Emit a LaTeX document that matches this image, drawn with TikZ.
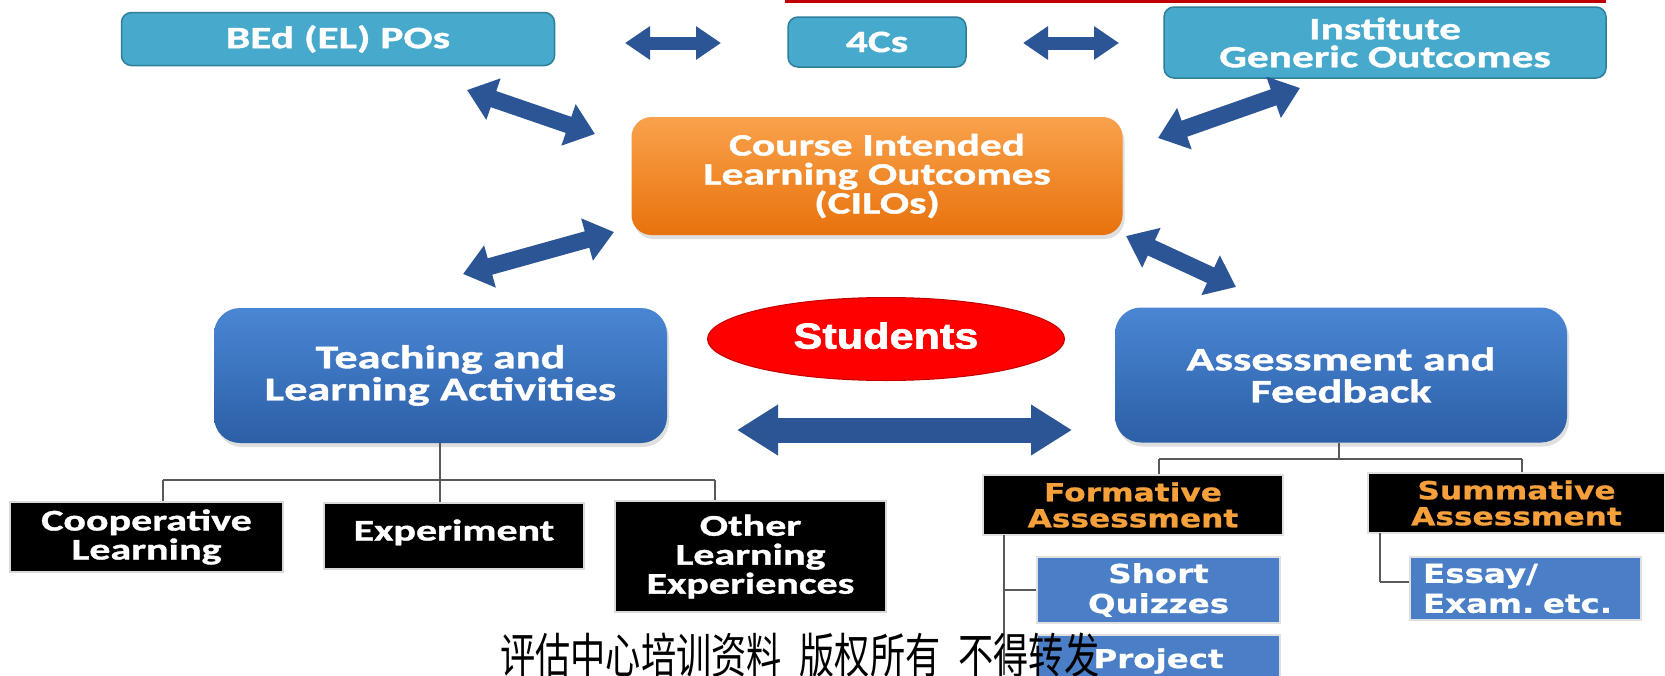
\documentclass[tikz,border=0pt]{standalone}
\usepackage{fontspec}
\setmainfont{Carlito}
\newfontfamily\calb[FakeStretch=1.4, BoldFeatures={FakeBold=1.2}]{Carlito}
\newfontfamily\verdb[FakeStretch=1.25, BoldFeatures={FakeBold=0.8}]{DejaVu Sans}
\newfontfamily\arb[FakeStretch=1.2, BoldFeatures={FakeBold=2}]{Liberation Sans}
\newfontfamily\cjk[FakeStretch=0.88]{Noto Sans CJK SC}
\usetikzlibrary{arrows.meta,shapes.geometric,shadows}
\definecolor{topfill}{HTML}{47A9CB}
\definecolor{topdraw}{HTML}{2E7F9A}
\definecolor{orT}{HTML}{F9A24C}
\definecolor{orB}{HTML}{E8720C}
\definecolor{blT}{HTML}{4A86D4}
\definecolor{blB}{HTML}{2C5FA6}
\definecolor{arrc}{HTML}{2B5594}
\definecolor{subblue}{HTML}{4A7EC6}
\definecolor{goldtxt}{HTML}{F6A03C}
\definecolor{redline}{HTML}{C00000}
\tikzset{
  topbox/.style={rectangle, rounded corners=10pt, fill=topfill, draw=topdraw, line width=1.5pt,
    text=white, font=\calb\bfseries\fontsize{31}{28}\selectfont, align=center, inner sep=0pt},
  cilobox/.style={rectangle, rounded corners=20pt, top color=orT, bottom color=orB, draw=none,
    text=white, font=\calb\bfseries\fontsize{31}{29}\selectfont, align=center, inner sep=0pt,
    drop shadow={opacity=0.25, shadow xshift=2pt, shadow yshift=-4pt}},
  bluebox/.style={rectangle, rounded corners=26pt, top color=blT, bottom color=blB, draw=none,
    text=white, font=\calb\bfseries\fontsize{33}{32}\selectfont, align=center, inner sep=0pt,
    drop shadow={opacity=0.25, shadow xshift=2pt, shadow yshift=-4pt}},
  studell/.style={ellipse, fill=red, draw=redline, line width=1pt, text=white,
    font=\arb\bfseries\fontsize{36}{38}\selectfont, inner sep=0pt},
  blackbox/.style={rectangle, fill=black, draw=black!15, line width=2pt, text=white,
    font=\calb\bfseries\fontsize{30}{29}\selectfont, align=center, inner sep=0pt},
  goldbox/.style={rectangle, fill=black, draw=black!12, line width=2.5pt, text=goldtxt,
    font=\verdb\bfseries\fontsize{25}{26}\selectfont, align=center, inner sep=0pt},
  subbox/.style={rectangle, fill=subblue, draw=black!12, line width=2.5pt, text=white,
    font=\verdb\bfseries\fontsize{26}{30}\selectfont, align=center, inner sep=0pt},
  tree/.style={draw=black!65, line width=1.5pt},
  toparr/.style={draw=arrc, line width=13pt, {Triangle[width=32pt,length=25pt]}-{Triangle[width=32pt,length=25pt]}},
  diagarr/.style={draw=arrc, line width=17pt, {Triangle[width=42pt,length=28pt]}-{Triangle[width=42pt,length=28pt]}},
  bigarr/.style={draw=arrc, line width=25pt, {Triangle[width=48pt,length=41pt]}-{Triangle[width=48pt,length=41pt]}},
}
\begin{document}
\begin{tikzpicture}[x=1pt,y=-1pt]
\useasboundingbox (0,0) rectangle (1665,675);
\clip (0,0) rectangle (1665,675);
\fill[white] (0,0) rectangle (1665,675);
% red line at top
\fill[redline] (785,0) rectangle (1606,3);

% top row
\node[topbox, minimum width=433pt, minimum height=53pt] (bed) at (338,39) {BEd (EL) POs};
\node[topbox, minimum width=178pt, minimum height=50pt] (fourc) at (877,42) {4Cs};
\node[topbox, minimum width=442pt, minimum height=71pt] (inst) at (1385,42.5) {Institute\\Generic Outcomes};

% CILOs
\node[cilobox, minimum width=491pt, minimum height=118pt] (cilo) at (877,176)
  {Course Intended\\Learning Outcomes\\(CILOs)};

% main blue boxes
\node[bluebox, minimum width=453pt, minimum height=135pt] (teach) at (440.5,375.5)
  {Teaching and\\Learning Activities};
\node[bluebox, minimum width=452pt, minimum height=135pt] (assess) at (1341,375)
  {Assessment and\\Feedback};

% students
\node[studell, minimum width=357pt, minimum height=83pt] (stud) at (886,339)
  {\raisebox{7pt}{Students}};

% black boxes (teaching)
\node[blackbox, minimum width=273pt, minimum height=70pt] (coop) at (146.5,537) {Cooperative\\Learning};
\node[blackbox, minimum width=260pt, minimum height=66pt] (exper) at (454,536) {\raisebox{12pt}{Experiment}};
\node[blackbox, minimum width=271pt, minimum height=111pt] (other) at (750.5,556.5) {Other\\Learning\\Experiences};

% assessment boxes
\node[goldbox, minimum width=300pt, minimum height=60pt] (form) at (1133,505) {Formative\\Assessment};
\node[goldbox, minimum width=297pt, minimum height=60pt] (summ) at (1516.5,503) {Summative\\Assessment};
\node[subbox, minimum width=243pt, minimum height=66pt] (quiz) at (1158.5,590) {Short\\Quizzes};
\node[subbox, minimum width=243pt, minimum height=52pt] (proj) at (1158.5,661) {\raisebox{4pt}{Project}};
\node[subbox, minimum width=231pt, minimum height=63pt, text width=205pt, align=left] (essay) at (1525.5,588.5) {Essay/\\Exam.~etc.};

% tree lines - teaching
\coordinate (tj) at (440,480);
\coordinate (tl) at (163,480);
\coordinate (tr) at (715,480);
\draw[tree] (teach.south -| tj) -- (tj);
\draw[tree] (tl) -- (tr);
\draw[tree] (tl) -- (coop.north -| tl);
\draw[tree] (tj) -- (exper.north -| tj);
\draw[tree] (tr) -- (other.north -| tr);

% tree lines - assessment
\coordinate (aj) at (1339,459);
\coordinate (al) at (1159,459);
\coordinate (ar) at (1522,459);
\draw[tree] (assess.south -| aj) -- (aj);
\draw[tree] (al) -- (ar);
\draw[tree] (al) -- (form.north -| al);
\draw[tree] (ar) -- (summ.north -| ar);
\coordinate (fs) at (1004,535);
\coordinate (fb) at (1004,675);
\draw[tree] (fs) -- (fb);
\draw[tree] (fs |- quiz.west) -- (quiz.west);
\coordinate (ss) at (1380,533);
\coordinate (sb) at (1380,582);
\draw[tree] (ss) -- (sb);
\draw[tree] (sb) -- (essay.west |- sb);

% block arrows
\coordinate (a1s) at (625,43);   \coordinate (a1e) at (721,43);
\coordinate (a2s) at (1023,43);  \coordinate (a2e) at (1119,43);
\coordinate (a3s) at (467,90);   \coordinate (a3e) at (595,134);
\coordinate (a4s) at (1300,88);  \coordinate (a4e) at (1158,138);
\coordinate (a5s) at (614,232);  \coordinate (a5e) at (463,274);
\coordinate (a6s) at (1126,236); \coordinate (a6e) at (1236,287);
\coordinate (a7s) at (737,430);  \coordinate (a7e) at (1072,430);
\draw[toparr] (a1s) -- (a1e);
\draw[toparr] (a2s) -- (a2e);
\draw[diagarr] (a3s) -- (a3e);
\draw[diagarr] (a4s) -- (a4e);
\draw[diagarr] (a5s) -- (a5e);
\draw[diagarr] (a6s) -- (a6e);
\draw[bigarr] (a7s) -- (a7e);

% watermark
\node[anchor=base west, inner sep=0pt, font=\cjk\fontsize{40}{44}\selectfont, text=black] (wm) at (500,673)
  {\scalebox{1}[1.2]{评估中心培训资料\hspace{0.45em}版权所有\hspace{0.45em}不得转发}};
\end{tikzpicture}
\end{document}
